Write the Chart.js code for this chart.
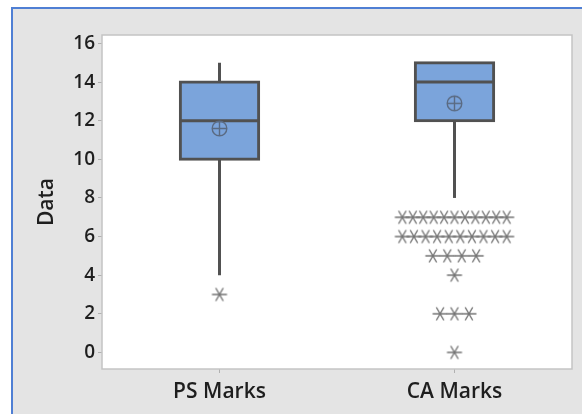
<!DOCTYPE html>
<html>
<head>
<meta charset="utf-8">
<title>PS and CA Marks box plot</title>
<script src="https://cdn.jsdelivr.net/npm/chart.js@4.4.1/dist/chart.umd.min.js"></script>
<style>
  html, body { margin: 0; padding: 0; background: #ffffff; overflow: hidden; width: 582px; height: 414px; }
  #frame {
    position: absolute; left: 11px; top: 7px; width: 580px; height: 420px;
    border-left: 2px solid #4f7fd4; border-top: 2px solid #4f7fd4;
    background: #e4e4e4;
  }
  #c { position: absolute; left: 0; top: 0; }
</style>
</head>
<body>
<div id="frame"></div>
<canvas id="c" width="582" height="414"></canvas>
<script>
// Group labels and five-number summaries
const categories = ['PS Marks', 'CA Marks'];
const q1Values = [10, 12];
const medianValues = [12, 14];
const q3Values = [14, 15];
const whiskerLow = [4, 8];
const whiskerHigh = [15, 15];
const meanValues = [11.6, 12.9];

// Outliers per group (repeated values are spread side by side)
const psOutliers = [3];
const caOutliers = [7, 7, 7, 7, 7, 7, 7, 7, 7, 7, 7,
                    6, 6, 6, 6, 6, 6, 6, 6, 6, 6,
                    5, 5, 5, 5,
                    4,
                    2, 2, 2,
                    0];

const yTickValues = [0, 2, 4, 6, 8, 10, 12, 14, 16];

// Spread equal outlier values horizontally around the group centre
function spreadOutliers(values, centre) {
  const counts = {};
  values.forEach(v => { counts[v] = (counts[v] || 0) + 1; });
  const pts = [];
  Object.keys(counts).forEach(key => {
    const n = counts[key];
    const step = n > 1 ? Math.min(0.0614, 0.444 / (n - 1)) : 0;
    for (let i = 0; i < n; i++) {
      pts.push({ x: centre + (i - (n - 1) / 2) * step, y: Number(key) });
    }
  });
  return pts;
}
const outlierPoints = [
  ...spreadOutliers(psOutliers, 1),
  ...spreadOutliers(caOutliers, 2)
];

// Six-spoke asterisk symbol for outliers
function makeAsterisk() {
  const c = document.createElement('canvas');
  c.width = 18; c.height = 16;
  const g = c.getContext('2d');
  g.strokeStyle = '#747474';
  g.lineWidth = 1.4;
  const r = 7.5;
  g.beginPath();
  [0, 60, 120].forEach(a => {
    const t = a * Math.PI / 180;
    g.moveTo(9 - r * Math.cos(t), 8 - r * Math.sin(t));
    g.lineTo(9 + r * Math.cos(t), 8 + r * Math.sin(t));
  });
  g.stroke();
  return c;
}

// Circle-with-cross symbol for the mean
function makeMeanSymbol() {
  const c = document.createElement('canvas');
  c.width = 19; c.height = 19;
  const g = c.getContext('2d');
  g.strokeStyle = '#5a6a82';
  g.lineWidth = 1.4;
  g.beginPath();
  g.arc(9.5, 9.5, 7.3, 0, Math.PI * 2);
  g.moveTo(9.5, 2.2); g.lineTo(9.5, 16.8);
  g.moveTo(2.2, 9.5); g.lineTo(16.8, 9.5);
  g.stroke();
  return c;
}

const lineColor = '#515151';

const boxPlotParts = {
  id: 'boxPlotParts',
  beforeDatasetsDraw(chart) {
    const { ctx, chartArea: a, scales: { x, y } } = chart;
    ctx.save();
    // plot area frame
    ctx.strokeStyle = '#c4c4c4';
    ctx.lineWidth = 1.5;
    ctx.strokeRect(a.left, a.top, a.right - a.left, a.bottom - a.top);
    // whiskers
    ctx.strokeStyle = lineColor;
    ctx.lineWidth = 3;
    ctx.lineCap = 'butt';
    categories.forEach((_, i) => {
      const px = x.getPixelForValue(i + 1);
      ctx.beginPath();
      ctx.moveTo(px, y.getPixelForValue(whiskerLow[i]));
      ctx.lineTo(px, y.getPixelForValue(q1Values[i]));
      ctx.moveTo(px, y.getPixelForValue(q3Values[i]));
      ctx.lineTo(px, y.getPixelForValue(whiskerHigh[i]));
      ctx.stroke();
    });
    ctx.restore();
  },
  afterDatasetDraw(chart, args) {
    if (args.meta.type !== 'bar') return;
    const { ctx, scales: { y } } = chart;
    ctx.save();
    ctx.strokeStyle = lineColor;
    ctx.lineWidth = 3;
    args.meta.data.forEach((bar, i) => {
      const py = y.getPixelForValue(medianValues[i]);
      const half = bar.width / 2;
      ctx.beginPath();
      ctx.moveTo(bar.x - half, py);
      ctx.lineTo(bar.x + half, py);
      ctx.stroke();
    });
    ctx.restore();
  }
};

const plotBackground = {
  id: 'plotBackground',
  beforeDraw(chart) {
    const { ctx, chartArea: a } = chart;
    ctx.save();
    ctx.fillStyle = '#ffffff';
    ctx.fillRect(a.left, a.top, a.right - a.left, a.bottom - a.top);
    ctx.restore();
  }
};

const textColor = '#1e1e1e';

new Chart(document.getElementById('c'), {
  data: {
    datasets: [
      {
        type: 'bar',
        order: 3,
        data: categories.map((_, i) => ({ x: i + 1, y: [q1Values[i], q3Values[i]] })),
        backgroundColor: '#7ba4db',
        borderColor: lineColor,
        borderWidth: 3,
        borderSkipped: false,
        inflateAmount: 1.5,
        barPercentage: 1,
        categoryPercentage: 1 / 3
      },
      {
        type: 'scatter',
        order: 2,
        data: outlierPoints,
        pointStyle: makeAsterisk(),
        pointRadius: 7
      },
      {
        type: 'scatter',
        order: 1,
        data: categories.map((_, i) => ({ x: i + 1, y: meanValues[i] })),
        pointStyle: makeMeanSymbol(),
        pointRadius: 8
      }
    ]
  },
  options: {
    responsive: false,
    animation: false,
    events: [],
    layout: { padding: { left: 0, top: 35, right: 10, bottom: 0 } },
    plugins: { legend: { display: false }, tooltip: { enabled: false } },
    scales: {
      x: {
        type: 'linear',
        min: 0.5,
        max: 2.5,
        offset: false,
        afterBuildTicks(scale) { scale.ticks = categories.map((_, i) => ({ value: i + 1 })); },
        afterFit(scale) { scale.height = 45; },
        ticks: {
          autoSkip: false,
          maxRotation: 0,
          padding: 6,
          color: textColor,
          font: { family: 'Open Sans', size: 21, weight: '600' },
          callback: v => categories[v - 1]
        },
        grid: { offset: false, drawOnChartArea: false, drawTicks: true, tickLength: 4, color: '#b0b0b0' },
        border: { display: false }
      },
      y: {
        type: 'linear',
        min: -0.86,
        max: 16.44,
        afterBuildTicks(scale) { scale.ticks = yTickValues.map(v => ({ value: v })); },
        afterFit(scale) { scale.width = 102; },
        ticks: {
          padding: 3,
          color: textColor,
          font: { family: 'Open Sans', size: 19, weight: '600' }
        },
        grid: { offset: false, drawOnChartArea: false, drawTicks: true, tickLength: 4, color: '#b0b0b0' },
        border: { display: false },
        title: {
          display: true,
          text: 'Data',
          color: textColor,
          padding: { top: 34, bottom: 0 },
          font: { family: 'Open Sans', size: 21, weight: '600' }
        }
      }
    }
  },
  plugins: [plotBackground, boxPlotParts]
});
</script>
</body>
</html>
